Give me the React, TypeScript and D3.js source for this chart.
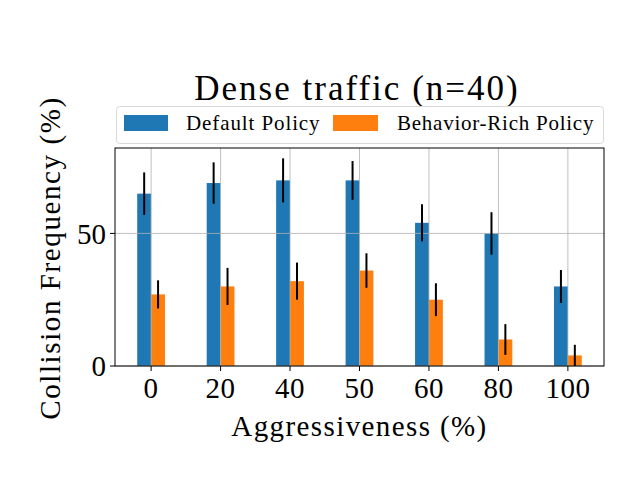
import { useEffect } from 'react';
import * as d3 from 'd3';

// values
const categories = ['0', '20', '40', '50', '60', '80', '100'];
const defaultPolicy = [65, 69, 70, 70, 54, 50, 30];
const defaultErr = [8, 7.8, 8.3, 7.3, 7, 8, 6.2];
const richPolicy = [27, 30, 32, 36, 25, 10, 4];
const richErr = [5.3, 7, 7, 6.5, 6.2, 5.8, 4];
const yTicks = [0, 50];

const width = 640;
const height = 480;
const margin = { left: 115, right: 36, top: 148, bottom: 114 };
const font = '"Liberation Serif", "DejaVu Serif", serif';
const blue = '#1f77b4';
const orange = '#ff7f0e';
const barW = 0.2;

export default function App() {
  useEffect(() => {
    document.body.style.margin = '0';
  }, []);

  const innerW = width - margin.left - margin.right;
  const innerH = height - margin.top - margin.bottom;

  // categorical axis on numeric positions, like matplotlib with 5% margins
  const x = d3.scaleLinear().domain([-0.52, 6.52]).range([0, innerW]);
  const yMax = d3.max(defaultPolicy.map((d, i) => d + defaultErr[i])) as number;
  const y = d3.scaleLinear().domain([0, yMax * 1.05]).range([innerH, 0]);

  const series = [
    { name: 'Default Policy', values: defaultPolicy, err: defaultErr, color: blue, offset: -barW / 2 },
    { name: 'Behavior-Rich Policy', values: richPolicy, err: richErr, color: orange, offset: barW / 2 },
  ];

  return (
    <svg width={width} height={height} style={{ display: 'block', background: '#fff' }}>
      <text x={357} y={100} textAnchor="middle" fontFamily={font} fontSize={35} letterSpacing={2}>
        Dense traffic (n=40)
      </text>

      {/* legend */}
      <g>
        <rect x={116.5} y={106.5} width={487} height={37} rx={3} fill="#fff" stroke="#d9d9d9" />
        <rect x={124} y={115} width={44} height={16} fill={blue} />
        <text x={186} y={130} fontFamily={font} fontSize={21} letterSpacing={0.9}>Default Policy</text>
        <rect x={333} y={115} width={45} height={16} fill={orange} />
        <text x={397} y={130} fontFamily={font} fontSize={21} letterSpacing={0.75}>Behavior-Rich Policy</text>
      </g>

      <g transform={`translate(${margin.left},${margin.top})`}>
        {/* bars */}
        {series.map(s =>
          s.values.map((v, i) => (
            <rect
              key={s.name + i}
              x={x(i + s.offset - barW / 2)}
              y={y(v)}
              width={x(barW) - x(0)}
              height={innerH - y(v)}
              fill={s.color}
            />
          ))
        )}

        {/* grid above the bars */}
        {categories.map((c, i) => (
          <line key={'gx' + c} x1={x(i)} x2={x(i)} y1={0} y2={innerH} stroke="#b0b0b0" strokeWidth={0.8} />
        ))}
        {yTicks.map(t => (
          <line key={'gy' + t} x1={0} x2={innerW} y1={y(t)} y2={y(t)} stroke="#b0b0b0" strokeWidth={0.8} />
        ))}

        {/* error bars */}
        {series.map(s =>
          s.values.map((v, i) => (
            <line
              key={'e' + s.name + i}
              x1={x(i + s.offset)}
              x2={x(i + s.offset)}
              y1={y(v - s.err[i])}
              y2={y(v + s.err[i])}
              stroke="#000"
              strokeWidth={2}
            />
          ))
        )}

        <rect x={0} y={0} width={innerW} height={innerH} fill="none" stroke="#000" strokeWidth={1} />

        {/* x ticks */}
        {categories.map((c, i) => (
          <g key={'tx' + c} transform={`translate(${x(i)},${innerH})`}>
            <line y1={0} y2={5} stroke="#000" />
            <text y={32} textAnchor="middle" fontFamily={font} fontSize={29} letterSpacing={0.5}>{c}</text>
          </g>
        ))}
        {/* y ticks */}
        {yTicks.map(t => (
          <g key={'ty' + t} transform={`translate(0,${y(t)})`}>
            <line x1={-5} x2={0} stroke="#000" />
            <text x={-9} dy="0.35em" textAnchor="end" fontFamily={font} fontSize={29}>{t}</text>
          </g>
        ))}

        <text x={innerW / 2} y={innerH + 70} textAnchor="middle" fontFamily={font} fontSize={29} letterSpacing={1.4}>
          Aggressiveness (%)
        </text>
        <text
          transform={`translate(-55,${innerH / 2 + 1}) rotate(-90)`}
          textAnchor="middle"
          fontFamily={font}
          fontSize={29}
          letterSpacing={1.6}
        >
          Collision Frequency (%)
        </text>
      </g>
    </svg>
  );
}
